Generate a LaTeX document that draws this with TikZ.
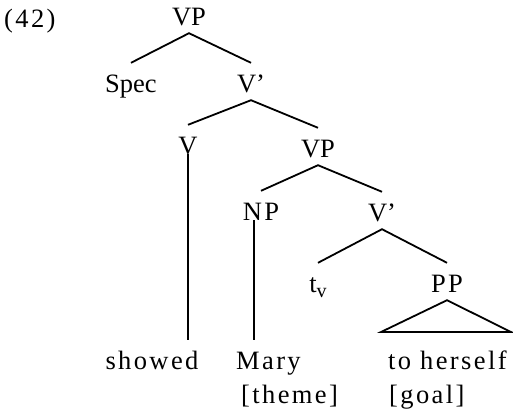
\documentclass[tikz,border=0pt]{standalone}
\usepackage{fontspec}
\setmainfont{Liberation Serif}
\newfontfamily\spaced[LetterSpace=9]{Liberation Serif}
\begin{document}
\begin{tikzpicture}[x=1pt,y=-1pt,
  lab/.style={inner sep=0pt, text height=29pt, text depth=8pt,
    font=\fontsize{26.5}{30}\selectfont, anchor=base},
  wide/.style={lab, font=\fontsize{26.5}{30}\spaced},
  branch/.style={line width=1.8pt}]
\useasboundingbox (0,0) rectangle (513,413);

% example number
\node[wide, anchor=base west] (ex) at (4,27) {(42)};

% tree labels
\node[lab]  (vp1)   at (189,25)  {VP};
\node[lab]  (spec)  at (131,92)  {Spec};
\node[lab]  (vbar1) at (251,92)  {V’};
\node[lab]  (v)     at (188,154) {V};
\node[lab]  (vp2)   at (318,157) {VP};
\node[wide] (np)    at (261,220) {NP};
\node[lab]  (vbar2) at (382,221) {V’};
\node[lab]  (tv)    at (318,292) {t\raisebox{-5pt}{\fontsize{20}{20}\selectfont v}};
\node[wide] (pp)    at (447,292) {PP};

% terminal strings
\node[wide] (showed) at (152,369) {showed};
\node[wide, anchor=base west] (mary)  at (236,369) {Mary};
\node[wide, anchor=base west] (theme) at (241,403) {[theme]};
\node[wide, anchor=base west] (toh)   at (388,369) {to herself};
\node[wide, anchor=base west] (goal)  at (389,403) {[goal]};

% branches
\draw[branch] (spec.north) -- (vp1.south) -- (vbar1.north);
\draw[branch] (v.north) -- (vbar1.south) -- (vp2.north);
\draw[branch] (np.north) -- (vp2.south) -- (vbar2.north);
\draw[branch] (tv.north) -- (vbar2.south) -- (pp.north);

% unary branches down to the words
\draw[branch] (v.base) -- (v.base |- showed.north);
\draw[branch] ([xshift=-7pt]np.base) -- ([xshift=-7pt]np.base |- mary.north);

% roof over the PP
\coordinate (roofl) at (381,332);
\coordinate (roofr) at (511,332);
\draw[branch, line join=miter] (pp.south) -- (roofr) -- (roofl) -- cycle;
\end{tikzpicture}
\end{document}
